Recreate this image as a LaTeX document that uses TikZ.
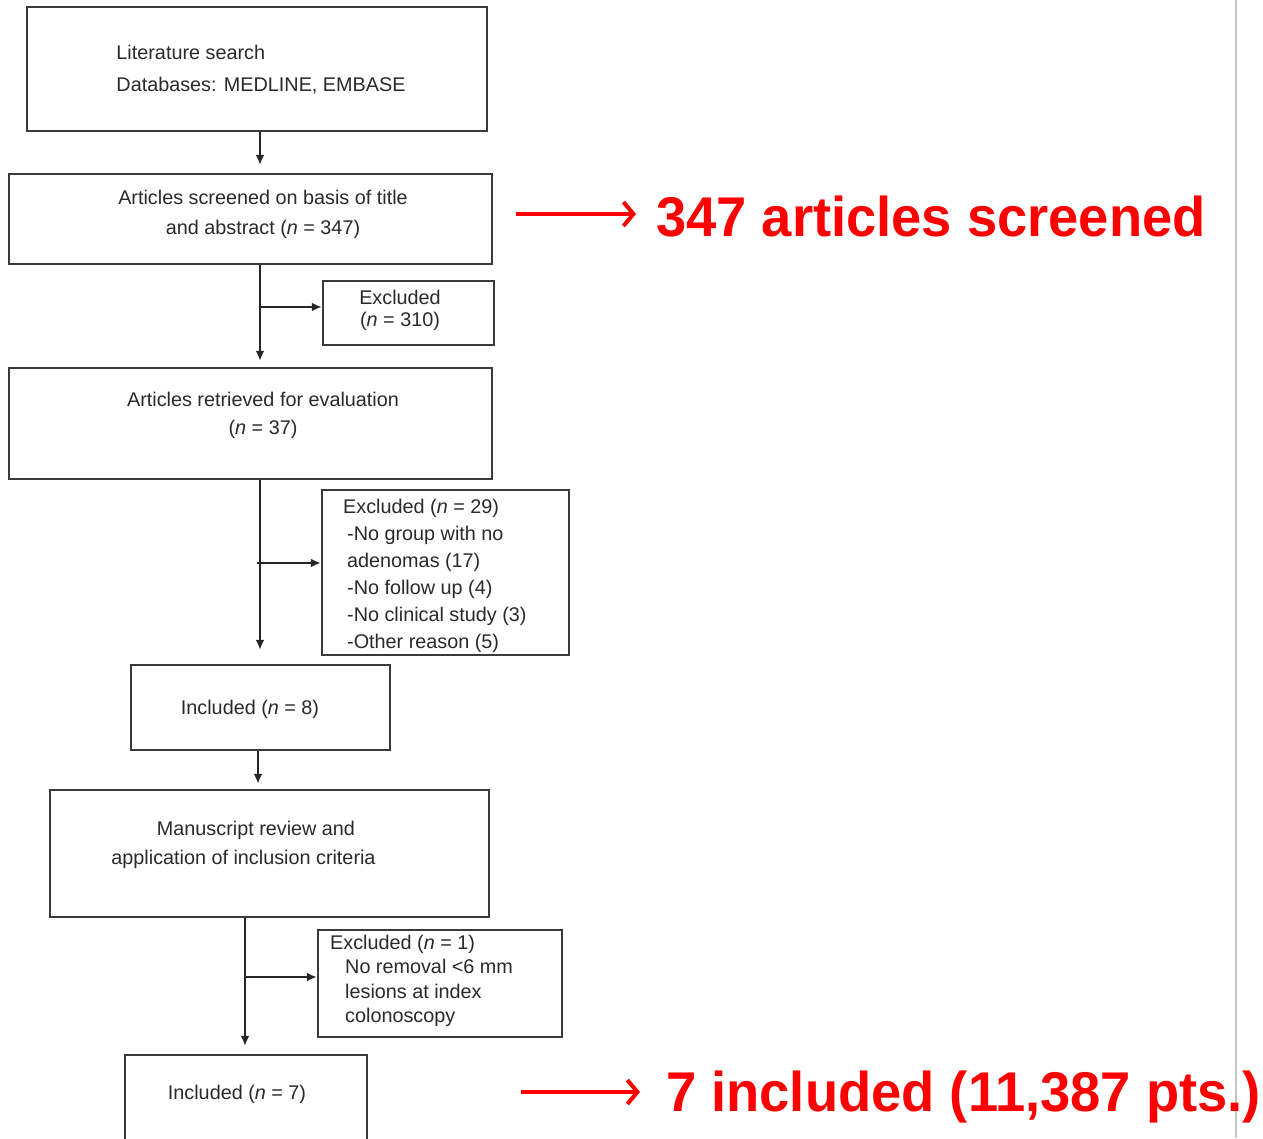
\documentclass[tikz,border=0pt]{standalone}
\usepackage{fontspec}
\setmainfont{Liberation Sans}
\usetikzlibrary{arrows.meta,calc}
\definecolor{boxline}{HTML}{3A3A3A}
\definecolor{boxtext}{HTML}{2A2A2A}
\definecolor{slidered}{HTML}{FF0000}
\definecolor{edgegray}{HTML}{C4C4C4}
\tikzset{
  flowbox/.style={draw=boxline, line width=2.5pt, inner sep=0pt},
  boxtxt/.style={text=boxtext, inner sep=0pt, font=\fontsize{19.8}{#1}\selectfont},
  conn/.style={draw=black!85, line width=2.2pt, -{Latex[length=10pt,width=9pt]}},
  redarr/.style={draw=slidered, line width=4pt, -{Straight Barb[length=10pt,width=24pt]}},
  redtxt/.style={text=slidered, inner sep=0pt, font=\fontsize{56}{60}\selectfont\bfseries}
}
\begin{document}
\begin{tikzpicture}[x=1pt,y=-1pt]
\useasboundingbox (0,0) rectangle (1263,1138);
\fill[white] (0,0) rectangle (1263,1138);
\clip (0,0) rectangle (1263,1138);
\draw[edgegray, line width=2pt] (1235.5,0) -- (1235.5,1138);

% boxes
\node[flowbox, minimum width=460pt, minimum height=124pt] (b1) at (257,69) {};
\node[flowbox, minimum width=483pt, minimum height=90pt] (b2) at (250.5,219) {};
\node[flowbox, minimum width=171pt, minimum height=64pt] (b3) at (408.5,313) {};
\node[flowbox, minimum width=483pt, minimum height=111pt] (b4) at (250.5,423.5) {};
\node[flowbox, minimum width=247pt, minimum height=165pt] (b5) at (445.5,572.5) {};
\node[flowbox, minimum width=259pt, minimum height=85pt] (b6) at (260.5,707.5) {};
\node[flowbox, minimum width=439pt, minimum height=127pt] (b7) at (269.5,853.5) {};
\node[flowbox, minimum width=244pt, minimum height=107pt] (b8) at (440,983.5) {};
\node[flowbox, minimum width=242pt, minimum height=110pt] (b9) at (246,1110) {};

% texts
\node[boxtxt=32, align=left] (t1) at (261,70) {Literature search\\Databases: MEDLINE, EMBASE};
\node[boxtxt=30, align=center] (t2) at (263,214) {Articles screened on basis of title\\and abstract (\textit{n} = 347)};
\node[boxtxt=22, align=center] (t3) at (400,310) {Excluded\\(\textit{n} = 310)};
\node[boxtxt=28, align=center] (t4) at (263,415) {Articles retrieved for evaluation\\(\textit{n} = 37)};
\node[boxtxt=26.9, align=left, anchor=west] (t5) at (343,576) {Excluded (\textit{n} = 29)\\
  \hspace*{4pt}-No group with no\\
  \hspace*{4pt}adenomas (17)\\
  \hspace*{4pt}-No follow up (4)\\
  \hspace*{4pt}-No clinical study (3)\\
  \hspace*{4pt}-Other reason (5)};
\node[boxtxt=30, align=center] (t6) at (250,709) {Included (\textit{n} = 8)};
\node[boxtxt=29, align=center] (t7) at (243.5,845) {\hspace*{25pt}Manuscript review and\\application of inclusion criteria};
\node[boxtxt=24.3, align=left, anchor=west] (t8) at (330,981) {Excluded (\textit{n} = 1)\\
  \hspace*{15pt}No removal <6 mm\\
  \hspace*{15pt}lesions at index\\
  \hspace*{15pt}colonoscopy};
\node[boxtxt=30, align=center] (t9) at (237,1094) {Included (\textit{n} = 7)};

% spine coordinates
\coordinate (sp1) at (260,307);
\coordinate (sp2) at (260,563);
\coordinate (sp4) at (258,767);
\coordinate (sp3) at (245,977);

% connectors
\draw[conn, shorten >=8pt] (b1.south -| sp1) -- (b2.north -| sp1);
\draw[conn, shorten >=6pt] (b2.south -| sp1) -- (b4.north -| sp1);
\draw[conn] (sp1) -- (sp1 -| b3.west);
\draw[conn, shorten >=14pt] (b4.south -| sp2) -- (b6.north -| sp2);
\draw[conn] ([xshift=-3pt]sp2) -- (sp2 -| b5.west);
\draw[conn, shorten >=5pt] (b6.south -| sp4) -- (b7.north -| sp4);
\draw[conn, shorten >=8pt] (b7.south -| sp3) -- (b9.north -| sp3);
\draw[conn] (sp3) -- (sp3 -| b8.west);

% red annotations
\node[redtxt, anchor=base west] (r1) at (656,236) {\scalebox{0.97}[1]{347 articles screened}};
\node[redtxt, anchor=base west] (r2) at (666,1111) {\scalebox{0.97}[1]{7 included (11,387 pts.)}};
\coordinate (r1s) at (516,214);
\coordinate (r1e) at (636,214);
\coordinate (r2s) at (521,1092);
\coordinate (r2e) at (640,1092);
\draw[redarr] (r1s) -- (r1e);
\draw[redarr] (r2s) -- (r2e);
\end{tikzpicture}
\end{document}
